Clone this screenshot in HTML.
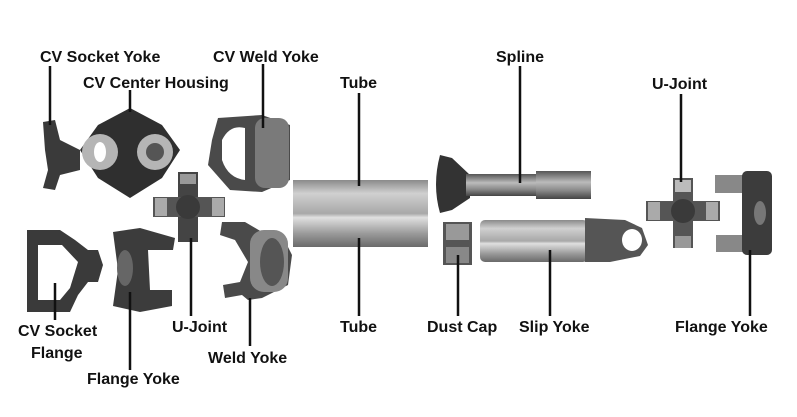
<!DOCTYPE html>
<html><head><meta charset="utf-8"><style>
html,body{margin:0;padding:0;background:#fff;width:797px;height:417px;overflow:hidden}
svg text{font-family:"Liberation Sans",sans-serif;font-weight:bold;font-size:16px;fill:#111}
</style></head><body>
<svg width="797" height="417" viewBox="0 0 797 417" xmlns="http://www.w3.org/2000/svg">
<defs>
<linearGradient id="tube" x1="0" y1="0" x2="0" y2="1">
<stop offset="0" stop-color="#8a8a8a"/><stop offset="0.2" stop-color="#d0d0d0"/><stop offset="0.5" stop-color="#a8a8a8"/><stop offset="0.56" stop-color="#e0e0e0"/><stop offset="0.8" stop-color="#9a9a9a"/><stop offset="1" stop-color="#6a6a6a"/>
</linearGradient>
<linearGradient id="met" x1="0" y1="0" x2="0" y2="1">
<stop offset="0" stop-color="#555"/><stop offset="0.4" stop-color="#bbb"/><stop offset="0.7" stop-color="#888"/><stop offset="1" stop-color="#444"/>
</linearGradient>
</defs>
<rect width="797" height="417" fill="#fff"/>

<path d="M43 122 L55 120 L60 140 L80 150 L80 170 L60 175 L55 190 L43 188 L48 170 L45 150 Z" fill="#3a3a3a"/>
<path d="M130 108 L162 125 L180 150 L162 178 L130 198 L98 178 L80 150 L98 125 Z" fill="#2f2f2f"/>
<circle cx="100" cy="152" r="18" fill="#b5b5b5"/><ellipse cx="100" cy="152" rx="6" ry="10" fill="#fff"/>
<circle cx="155" cy="152" r="18" fill="#b5b5b5"/><circle cx="155" cy="152" r="9" fill="#555"/>
<path d="M218 118 L262 115 L290 125 L290 180 L262 192 L230 190 L208 165 L212 140 Z" fill="#4a4a4a"/>
<rect x="255" y="118" width="34" height="70" rx="10" fill="#7a7a7a"/>
<path d="M222 140 Q230 124 245 128 L245 180 Q228 178 222 160 Z" fill="#fff"/>
<rect x="178" y="172" width="20" height="70" fill="#444"/>
<rect x="153" y="197" width="72" height="20" fill="#555"/>
<rect x="155" y="198" width="12" height="18" fill="#aaa"/><rect x="212" y="198" width="12" height="18" fill="#aaa"/>
<rect x="180" y="174" width="16" height="10" fill="#999"/>
<circle cx="188" cy="207" r="12" fill="#3a3a3a"/>
<path d="M27 230 L60 230 L75 240 L88 250 L98 250 L103 265 L98 282 L88 282 L78 295 L70 312 L27 312 Z" fill="#3a3a3a"/>
<path d="M38 245 L62 245 L78 262 L70 288 L60 300 L38 300 Z" fill="#fff"/>
<path d="M113 232 L140 228 L175 238 L173 250 L148 250 L150 290 L172 290 L172 306 L140 312 L113 306 L118 270 Z" fill="#3c3c3c"/>
<ellipse cx="125" cy="268" rx="8" ry="18" fill="#666"/>
<path d="M222 222 L245 222 L262 232 L282 235 L292 255 L288 285 L262 298 L248 300 L242 295 L225 298 L223 285 L240 282 L248 262 L235 240 L220 235 Z" fill="#4a4a4a"/>
<rect x="250" y="230" width="38" height="62" rx="14" fill="#888"/>
<ellipse cx="272" cy="262" rx="12" ry="24" fill="#555"/>

<rect x="293" y="180" width="135" height="67" fill="url(#tube)"/>

<path d="M440 155 L452 158 L470 175 L470 198 L452 210 L440 213 Q432 185 440 155 Z" fill="#333"/>
<rect x="466" y="174" width="72" height="22" fill="url(#met)"/>
<rect x="536" y="171" width="55" height="28" fill="url(#met)"/>
<rect x="443" y="222" width="29" height="43" fill="#555"/>
<rect x="446" y="224" width="23" height="16" fill="#999"/><rect x="446" y="247" width="23" height="16" fill="#888"/>
<rect x="480" y="220" width="108" height="42" rx="5" fill="url(#tube)"/>
<path d="M585 218 L625 220 L642 228 L648 245 L640 256 L610 262 L585 262 Z" fill="#555"/>
<ellipse cx="632" cy="240" rx="10" ry="11" fill="#fff"/>
<rect x="673" y="178" width="20" height="70" fill="#555"/>
<rect x="646" y="201" width="74" height="20" fill="#555"/>
<rect x="648" y="202" width="12" height="18" fill="#aaa"/><rect x="706" y="202" width="12" height="18" fill="#aaa"/>
<rect x="675" y="180" width="16" height="12" fill="#bbb"/><rect x="675" y="236" width="16" height="12" fill="#999"/>
<circle cx="683" cy="211" r="12" fill="#3a3a3a"/>
<rect x="715" y="175" width="35" height="18" fill="#888"/>
<rect x="716" y="235" width="34" height="17" fill="#888"/>
<rect x="742" y="171" width="30" height="84" rx="5" fill="#3c3c3c"/>
<ellipse cx="760" cy="213" rx="6" ry="12" fill="#777"/>

<g stroke="#111" stroke-width="2.5" fill="none">
<line x1="50" y1="66" x2="50" y2="125"/>
<line x1="130" y1="90" x2="130" y2="112"/>
<line x1="263" y1="64" x2="263" y2="128"/>
<line x1="359" y1="93" x2="359" y2="186"/>
<line x1="520" y1="66" x2="520" y2="183"/>
<line x1="681" y1="94" x2="681" y2="182"/>
<line x1="55" y1="283" x2="55" y2="320"/>
<line x1="130" y1="292" x2="130" y2="370"/>
<line x1="191" y1="238" x2="191" y2="316"/>
<line x1="250" y1="298" x2="250" y2="346"/>
<line x1="359" y1="238" x2="359" y2="316"/>
<line x1="458" y1="255" x2="458" y2="316"/>
<line x1="550" y1="250" x2="550" y2="316"/>
<line x1="750" y1="250" x2="750" y2="316"/>
</g>

<text x="40" y="62">CV Socket Yoke</text>
<text x="83" y="88">CV Center Housing</text>
<text x="213" y="62">CV Weld Yoke</text>
<text x="340" y="88">Tube</text>
<text x="496" y="62">Spline</text>
<text x="652" y="89">U-Joint</text>
<text x="18" y="336">CV Socket</text>
<text x="31" y="358">Flange</text>
<text x="87" y="384">Flange Yoke</text>
<text x="172" y="332">U-Joint</text>
<text x="208" y="363">Weld Yoke</text>
<text x="340" y="332">Tube</text>
<text x="427" y="332">Dust Cap</text>
<text x="519" y="332">Slip Yoke</text>
<text x="675" y="332">Flange Yoke</text>
</svg>
</body></html>
